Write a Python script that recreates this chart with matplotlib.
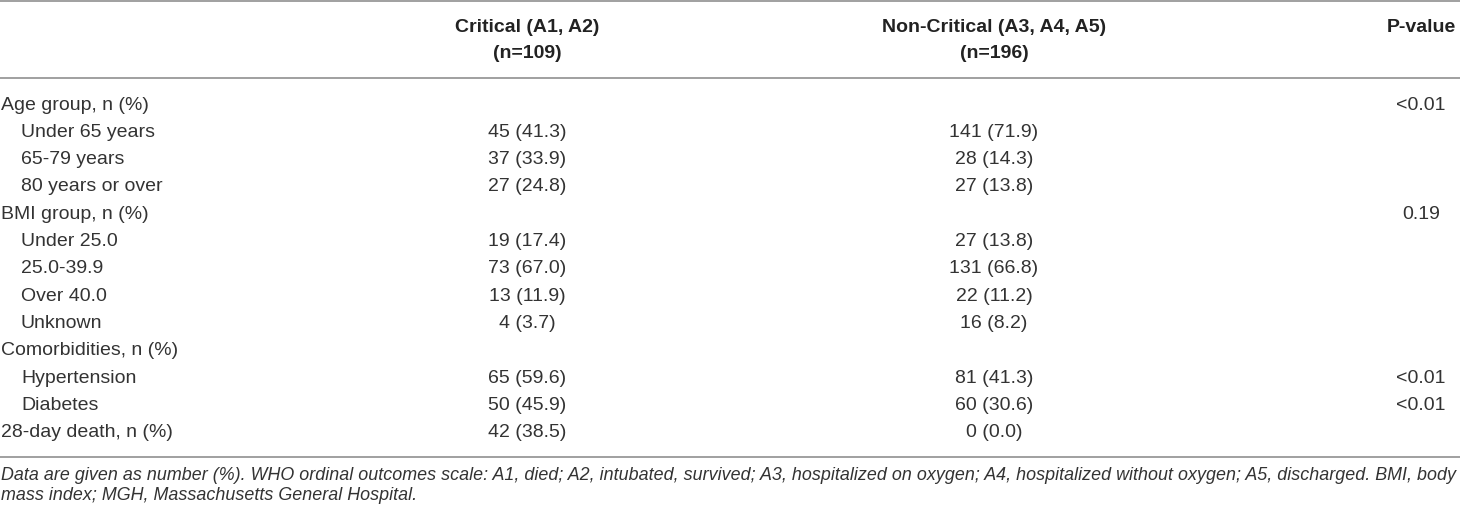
import matplotlib
matplotlib.use("Agg")
import matplotlib.pyplot as plt

plt.rcParams['font.family'] = ['Liberation Sans', 'DejaVu Sans']

# table content
col_headers = [["Critical (A1, A2)", "(n=109)"],
               ["Non-Critical (A3, A4, A5)", "(n=196)"],
               ["P-value", ""]]
row_labels = ["Age group, n (%)", "Under 65 years", "65-79 years", "80 years or over",
              "BMI group, n (%)", "Under 25.0", "25.0-39.9", "Over 40.0", "Unknown",
              "Comorbidities, n (%)", "Hypertension", "Diabetes", "28-day death, n (%)"]
indented = [False, True, True, True, False, True, True, True, True, False, True, True, False]
critical = ["", "45 (41.3)", "37 (33.9)", "27 (24.8)", "", "19 (17.4)", "73 (67.0)",
            "13 (11.9)", "4 (3.7)", "", "65 (59.6)", "50 (45.9)", "42 (38.5)"]
non_critical = ["", "141 (71.9)", "28 (14.3)", "27 (13.8)", "", "27 (13.8)", "131 (66.8)",
                "22 (11.2)", "16 (8.2)", "", "81 (41.3)", "60 (30.6)", "0 (0.0)"]
p_values = ["<0.01", "", "", "", "0.19", "", "", "", "", "", "<0.01", "<0.01", ""]
footnote = ["Data are given as number (%). WHO ordinal outcomes scale: A1, died; A2, intubated, survived; "
            "A3, hospitalized on oxygen; A4, hospitalized without oxygen; A5, discharged. BMI, body",
            "mass index; MGH, Massachusetts General Hospital."]

W, H = 1460, 513
fig = plt.figure(figsize=(W / 100, H / 100), dpi=100)
ax = fig.add_axes([0, 0, 1, 1])
ax.set_xlim(0, W)
ax.set_ylim(H, 0)
ax.axis("off")

txt = "#333333"
line_c = "#a0a0a0"
fs = 14

col_x = [527, 994, 1421]

# rules
for y in [1, 78, 457]:
    ax.plot([0, W], [y, y], color=line_c, lw=1.4, solid_capstyle="butt")

# header (P-value sits on the first line only)
for x, (h1, h2) in zip(col_x, col_headers):
    ax.text(x, 27, h1, ha="center", va="center", fontsize=fs, fontweight="bold", color="#222222")
    if h2:
        ax.text(x, 53, h2, ha="center", va="center", fontsize=fs, fontweight="bold", color="#222222")

# body rows
y0, dy = 105, 27.33
for i, lab in enumerate(row_labels):
    y = y0 + i * dy
    ax.text(21 if indented[i] else 1, y, lab, ha="left", va="center", fontsize=fs, color=txt)
    ax.text(col_x[0], y, critical[i], ha="center", va="center", fontsize=fs, color=txt)
    ax.text(col_x[1], y, non_critical[i], ha="center", va="center", fontsize=fs, color=txt)
    ax.text(col_x[2], y, p_values[i], ha="center", va="center", fontsize=fs, color=txt)

for k, line in enumerate(footnote):
    ax.text(1, 475 + k * 20, line, ha="left", va="center", fontsize=12.85, style="italic", color=txt)

fig.savefig("out.png", dpi=100)
